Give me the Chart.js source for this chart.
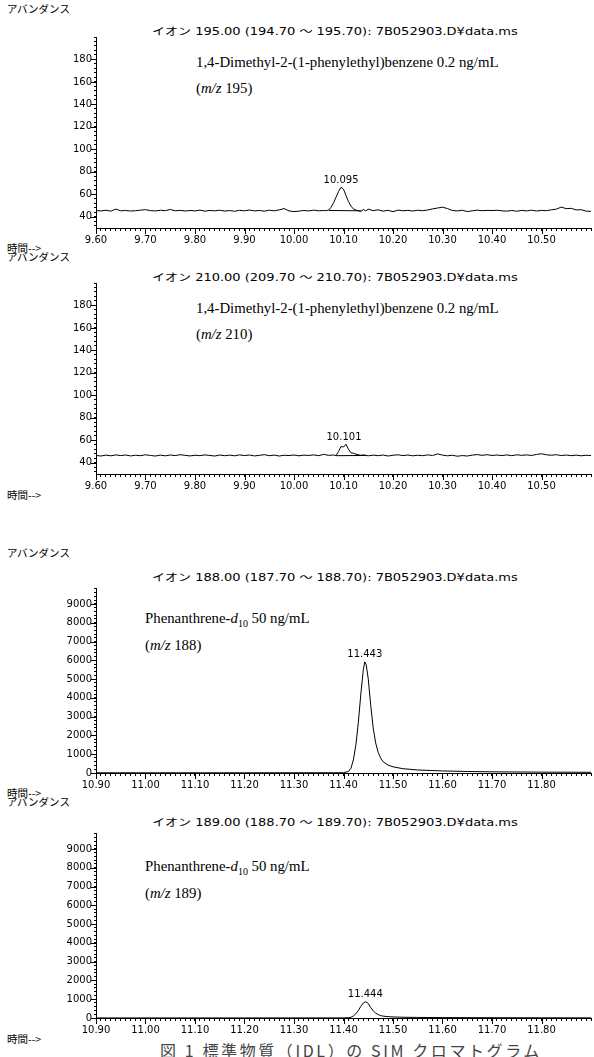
<!DOCTYPE html>
<html><head><meta charset="utf-8">
<script src="https://cdn.jsdelivr.net/npm/chart.js@4"></script>
<style>
body{margin:0;width:594px;height:1057px;position:relative;background:#fff;overflow:hidden}
.t{position:absolute;white-space:nowrap;color:#000;line-height:1}
.jp{font-family:"Noto Sans CJK JP",sans-serif;font-size:10.5px}
.ion{font-family:"DejaVu Sans","Noto Sans CJK JP",sans-serif;font-size:10px;transform:scaleX(1.3);transform-origin:0 0}
.note{font-family:"Liberation Serif","Times New Roman",serif;font-size:14.8px}
.cap{font-family:"Noto Sans CJK JP",sans-serif;font-size:16px;color:#444;letter-spacing:2.6px}
canvas{position:absolute;left:0}
</style></head><body>
<div class="t jp" style="left:7px;top:4px">アバンダンス</div>
<div class="t ion" style="left:152px;top:27px">イオン 195.00 (194.70 〜 195.70): 7B052903.D¥data.ms</div>
<div class="t note" style="left:196px;top:55px">1,4-Dimethyl-2-(1-phenylethyl)benzene 0.2 ng/mL</div>
<div class="t note" style="left:196px;top:81px">(<i>m/z</i> 195)</div>
<div class="t jp" style="left:7px;top:243px">時間--&gt;</div>

<div class="t jp" style="left:7px;top:252px">アバンダンス</div>
<div class="t ion" style="left:152px;top:273px">イオン 210.00 (209.70 〜 210.70): 7B052903.D¥data.ms</div>
<div class="t note" style="left:196px;top:301px">1,4-Dimethyl-2-(1-phenylethyl)benzene 0.2 ng/mL</div>
<div class="t note" style="left:196px;top:327px">(<i>m/z</i> 210)</div>
<div class="t jp" style="left:7px;top:490px">時間--&gt;</div>

<div class="t jp" style="left:7px;top:548px">アバンダンス</div>
<div class="t ion" style="left:152px;top:573px">イオン 188.00 (187.70 〜 188.70): 7B052903.D¥data.ms</div>
<div class="t note" style="left:145px;top:611px">Phenanthrene-<i>d</i><sub style="font-size:10px">10</sub> 50 ng/mL</div>
<div class="t note" style="left:145px;top:638px">(<i>m/z</i> 188)</div>
<div class="t jp" style="left:7px;top:788px">時間--&gt;</div>

<div class="t jp" style="left:7px;top:797px">アバンダンス</div>
<div class="t ion" style="left:152px;top:818px">イオン 189.00 (188.70 〜 189.70): 7B052903.D¥data.ms</div>
<div class="t note" style="left:145px;top:859px">Phenanthrene-<i>d</i><sub style="font-size:10px">10</sub> 50 ng/mL</div>
<div class="t note" style="left:145px;top:886px">(<i>m/z</i> 189)</div>
<div class="t jp" style="left:7px;top:1034px">時間--&gt;</div>

<div class="t cap" style="left:160px;top:1042px">図 1 標準物質（IDL）の SIM クロマトグラム</div>

<canvas id="c1"></canvas>
<canvas id="c2"></canvas>
<canvas id="c3"></canvas>
<canvas id="c4"></canvas>
<script>
// ---------- data ----------
const xLabelsA = ['9.60','9.70','9.80','9.90','10.00','10.10','10.20','10.30','10.40','10.50'];
const xLabelsB = ['10.90','11.00','11.10','11.20','11.30','11.40','11.50','11.60','11.70','11.80'];
const yLabelsA = [40,60,80,100,120,140,160,180];
const yLabelsB = [0,1000,2000,3000,4000,5000,6000,7000,8000,9000];

const time195 = [9.60,9.61,9.62,9.63,9.64,9.65,9.66,9.67,9.68,9.69,9.70,9.71,9.72,9.73,9.74,9.75,9.76,9.77,9.78,9.79,
9.80,9.81,9.82,9.83,9.84,9.85,9.86,9.87,9.88,9.89,9.90,9.91,9.92,9.93,9.94,9.95,9.96,9.97,9.98,9.99,
10.00,10.01,10.02,10.03,10.04,10.05,10.06,10.065,10.07,10.075,10.08,10.085,10.09,10.095,10.10,10.105,10.11,10.115,10.12,10.125,10.13,10.135,10.14,10.145,
10.15,10.16,10.17,10.18,10.19,10.20,10.21,10.22,10.23,10.24,10.25,10.26,10.27,10.28,10.29,10.30,10.31,10.32,10.33,10.34,10.35,10.36,10.37,10.38,10.39,
10.40,10.41,10.42,10.43,10.44,10.45,10.46,10.47,10.48,10.49,10.50,10.51,10.52,10.53,10.54,10.55,10.56,10.57,10.58,10.59,10.60];
const abund195 = [45.5,45.2,45.8,45.0,46.8,45.3,45.6,45.1,45.4,45.9,46.3,45.5,45.2,45.8,45.4,46.5,45.3,45.7,45.1,45.6,
45.2,45.9,45.0,45.6,45.3,45.8,45.1,45.5,44.9,45.7,45.3,46.0,45.2,45.6,45.0,45.8,45.3,46.1,47.3,45.2,
44.6,45.0,45.6,45.2,45.9,45.3,45.6,45.4,46.0,48.5,52.5,57.5,62.5,66.3,64.5,59.0,53.5,49.5,47.0,46.0,45.3,44.8,46.5,45.2,
46.8,45.4,46.2,45.0,45.8,44.5,45.9,45.3,45.7,45.1,45.8,45.4,46.0,47.0,47.8,48.5,47.3,45.6,45.2,45.8,44.6,45.3,45.9,45.4,45.7,
45.5,45.8,45.3,45.0,45.6,44.9,45.7,45.2,45.9,45.1,45.7,45.4,46.2,46.8,48.6,47.2,47.5,46.1,46.3,45.0,44.8];
const intTime195 = [10.07,10.135];
const intAbund195 = [45.6,45.3];

const time210 = [9.60,9.61,9.62,9.63,9.64,9.65,9.66,9.67,9.68,9.69,9.70,9.71,9.72,9.73,9.74,9.75,9.76,9.77,9.78,9.79,
9.80,9.81,9.82,9.83,9.84,9.85,9.86,9.87,9.88,9.89,9.90,9.91,9.92,9.93,9.94,9.95,9.96,9.97,9.98,9.99,
10.00,10.01,10.02,10.03,10.04,10.05,10.06,10.07,10.08,10.085,10.09,10.095,10.10,10.105,10.11,10.115,10.12,10.125,10.13,10.135,10.14,
10.15,10.16,10.17,10.18,10.19,10.20,10.21,10.22,10.23,10.24,10.25,10.26,10.27,10.28,10.29,10.30,10.31,10.32,10.33,10.34,10.35,10.36,10.37,10.38,10.39,
10.40,10.41,10.42,10.43,10.44,10.45,10.46,10.47,10.48,10.49,10.50,10.51,10.52,10.53,10.54,10.55,10.56,10.57,10.58,10.59,10.60];
const abund210 = [46.5,46.0,46.8,46.2,47.0,46.4,46.9,46.1,46.7,46.3,47.1,46.5,46.0,46.8,46.2,46.9,46.4,47.2,46.6,46.1,
46.7,46.3,47.0,46.5,46.0,46.9,46.3,46.8,46.2,47.0,46.4,46.9,46.1,46.6,47.2,46.3,46.8,46.0,46.7,46.4,
46.9,46.2,46.8,46.5,47.0,46.3,47.5,46.6,46.9,46.4,50.0,54.5,54.0,56.5,52.0,49.0,48.5,47.6,47.2,46.6,47.0,
46.2,46.8,46.3,46.9,46.0,46.7,47.1,46.4,46.9,46.2,46.7,46.3,47.0,46.5,47.9,46.8,46.2,46.7,45.8,46.4,46.0,46.8,47.3,46.6,47.2,
46.5,46.9,46.4,47.0,46.3,47.1,46.6,47.0,46.5,47.4,48.0,47.1,46.7,47.2,46.4,46.9,46.3,46.8,46.2,46.7,46.4];
const intTime210 = [10.085,10.145];
const intAbund210 = [46.3,46.5];

const time188 = [10.90,11.00,11.10,11.20,11.30,11.38,11.40,11.41,11.415,11.42,11.425,11.43,11.435,11.44,11.443,11.446,11.45,11.455,11.46,11.465,11.47,11.475,11.48,11.49,11.50,11.52,11.55,11.60,11.65,11.70,11.80,11.90];
const abund188 = [10,10,10,10,12,14,15,80,250,700,1500,2700,4200,5500,5920,5750,5000,3600,2400,1600,1100,800,600,420,330,230,160,110,80,62,45,38];

const time189 = [10.90,11.00,11.10,11.20,11.30,11.38,11.40,11.41,11.415,11.42,11.425,11.43,11.435,11.44,11.444,11.448,11.45,11.455,11.46,11.465,11.47,11.475,11.48,11.49,11.50,11.52,11.55,11.60,11.70,11.80,11.90];
const abund189 = [4,4,4,4,5,5,5,15,40,110,230,400,620,800,860,830,760,560,380,260,180,130,100,70,55,40,30,22,15,10,8];

// ---------- drawing ----------
const tickFont = {family:'DejaVu Sans', size:10};

const extraPlugin = {
  id:'extra',
  afterDraw(chart, args, opts){
    const ctx = chart.ctx, xs = chart.scales.x, ys = chart.scales.y, ca = chart.chartArea;
    ctx.save();
    ctx.strokeStyle = '#000'; ctx.lineWidth = 1;
    ctx.beginPath();
    opts.xMajor.forEach(s => { const px = Math.round(xs.getPixelForValue(parseFloat(s))) + 0.5; ctx.moveTo(px, ca.bottom); ctx.lineTo(px, ca.bottom + 6); });
    opts.yMajor.forEach(v => { const py = Math.round(ys.getPixelForValue(v)) + 0.5; ctx.moveTo(ca.left, py); ctx.lineTo(ca.left - 5, py); });
    ctx.stroke();
    const pk = opts.peak;
    const px = xs.getPixelForValue(pk.x), py = ys.getPixelForValue(pk.y);
    ctx.fillStyle = '#000'; ctx.font = '10px "DejaVu Sans"';
    ctx.textAlign = 'center'; ctx.textBaseline = 'bottom';
    ctx.fillText(pk.text, px, py - 2);
    ctx.restore();
  }
};

function makePanel(id, top, bottom, xmin, xmax, ymin, ymax, xMajor, yMajor, yStep, times, vals, intT, intV, peak){
  const cv = document.getElementById(id);
  const padTop = 8, axisH = 22;
  cv.style.top = (top - padTop) + 'px';
  cv.width = 594; cv.height = bottom - top + padTop + axisH;
  const datasets = [{
    data: times.map((t,i)=>({x:t, y:vals[i]})),
    borderColor:'#000', borderWidth:1, pointRadius:0, tension:0, fill:false
  }];
  if (intT) datasets.push({
    data: intT.map((t,i)=>({x:t, y:intV[i]})),
    borderColor:'#000', borderWidth:1, pointRadius:0, tension:0, fill:false
  });
  new Chart(cv, {
    type:'line',
    data:{datasets},
    plugins:[extraPlugin],
    options:{
      responsive:false, animation:false, devicePixelRatio:1,
      layout:{padding:{top:padTop, right:3, left:0, bottom:0}},
      plugins:{legend:{display:false}, tooltip:{enabled:false},
        extra:{xMajor, yMajor, peak}},
      scales:{
        x:{type:'linear', min:xmin, max:xmax,
          afterBuildTicks(axis){ const t=[]; for(let i=0;;i++){ const v=+(xmin+i*0.01).toFixed(2); if(v>xmax+1e-9) break; t.push({value:v}); } axis.ticks=t; },
          afterFit(s){ s.height = axisH; },
          ticks:{autoSkip:false, maxRotation:0, minRotation:0, padding:3, color:'#000', font:tickFont,
            callback(v){ const s=(+v).toFixed(2); return xMajor.includes(s) ? s : ''; }},
          grid:{display:true, drawOnChartArea:false, drawTicks:true, tickLength:3, color:'#000'},
          border:{display:true, color:'#000', width:1}
        },
        y:{type:'linear', min:ymin, max:ymax,
          afterBuildTicks(axis){ const t=[]; for(let v=Math.ceil(ymin/yStep)*yStep; v<=ymax; v+=yStep) t.push({value:v}); axis.ticks=t; },
          afterFit(s){ s.width = 96; },
          ticks:{autoSkip:false, padding:2, color:'#000', font:tickFont,
            callback(v){ return yMajor.includes(+v) ? String(v) : ''; }},
          grid:{display:true, drawOnChartArea:false, drawTicks:true, tickLength:2, color:'#000'},
          border:{display:true, color:'#000', width:1}
        }
      }
    }
  });
}

makePanel('c1', 37, 228, 9.60, 10.60, 30, 200, xLabelsA, yLabelsA, 4, time195, abund195, intTime195, intAbund195, {x:10.095, y:66.3, text:'10.095'});
makePanel('c2', 283, 474, 9.60, 10.60, 30, 200, xLabelsA, yLabelsA, 4, time210, abund210, intTime210, intAbund210, {x:10.101, y:56.5, text:'10.101'});
makePanel('c3', 588, 773, 10.90, 11.90, 0, 9850, xLabelsB, yLabelsB, 200, time188, abund188, null, null, {x:11.443, y:5920, text:'11.443'});
makePanel('c4', 833, 1018, 10.90, 11.90, 0, 9850, xLabelsB, yLabelsB, 200, time189, abund189, null, null, {x:11.444, y:860, text:'11.444'});
</script>
</body></html>
